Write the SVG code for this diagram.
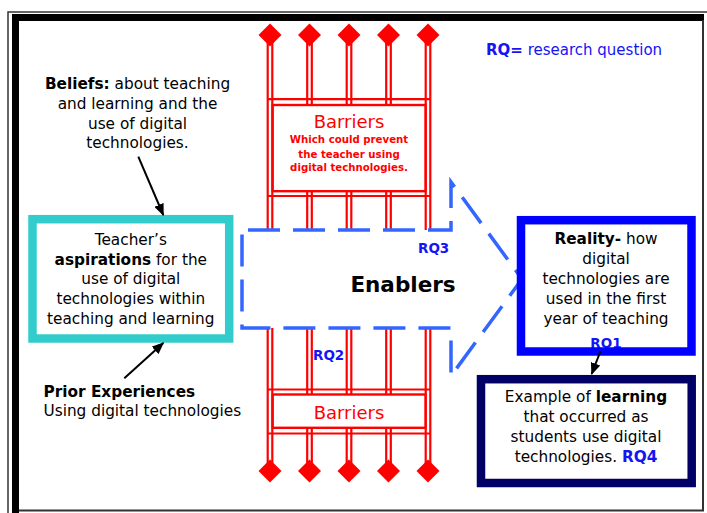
<svg xmlns="http://www.w3.org/2000/svg" width="707" height="513" viewBox="0 0 707 513">
<defs>
<style>
text{font-family:"DejaVu Sans","Liberation Sans",sans-serif;fill:#000}
.body{font-size:15.3px;text-anchor:middle}
.b{font-weight:bold}
.rq{fill:#1414F5;font-weight:bold}
.board-outer{fill:none;stroke:#FF0000;stroke-width:2.2}
.board-inner{fill:#fff;stroke:#FF0000;stroke-width:2.4}
.red{fill:#FF0000}
.conn line{stroke:#000;stroke-width:2;marker-end:url(#ah)}
</style>
<marker id="ah" viewBox="0 0 12 10" refX="11" refY="5" markerWidth="12" markerHeight="10" markerUnits="userSpaceOnUse" orient="auto"><path d="M0,0 L12,5 L0,10 Z" fill="#000"/></marker>
<g id="postTop">
<line x1="-2.3" y1="40" x2="-2.3" y2="240" stroke="#FF0000" stroke-width="2.2"/>
<line x1="2.3" y1="40" x2="2.3" y2="240" stroke="#FF0000" stroke-width="2.2"/>
<polygon points="0,23.5 11.5,35 0,46.5 -11.5,35" fill="#FF0000"/>
</g>
<g id="postBottom">
<line x1="-2.3" y1="320" x2="-2.3" y2="466" stroke="#FF0000" stroke-width="2.2"/>
<line x1="2.3" y1="320" x2="2.3" y2="466" stroke="#FF0000" stroke-width="2.2"/>
<polygon points="0,459.5 11.5,471 0,482.5 -11.5,471" fill="#FF0000"/>
</g>
</defs>

<g id="frame">
<path d="M8,513 V12 H707" fill="none" stroke="#333" stroke-width="1.5"/>
<path d="M12,513 V14 H704 V21 H19 V513 Z" fill="#000"/>
<path d="M703,20 V510.5 H19" fill="none" stroke="#333" stroke-width="2"/>
</g>

<g id="barriers-top">
<use href="#postTop" x="270"/>
<use href="#postTop" x="309.5"/>
<use href="#postTop" x="349"/>
<use href="#postTop" x="388.5"/>
<use href="#postTop" x="428"/>
<path class="board-outer" d="M267.7,99.2 H430.3 M267.7,196 H430.3"/>
<rect class="board-inner" x="272.7" y="105" width="152.8" height="86.2"/>
<text class="red" x="349" y="128.3" font-size="18" text-anchor="middle">Barriers</text>
<text class="red b" font-size="10.2" text-anchor="middle"><tspan x="349" y="143">Which could prevent</tspan><tspan x="349" y="157.7">the teacher using</tspan><tspan x="349" y="171">digital technologies.</tspan></text>
</g>

<g id="barriers-bottom">
<use href="#postBottom" x="270"/>
<use href="#postBottom" x="309.5"/>
<use href="#postBottom" x="349"/>
<use href="#postBottom" x="388.5"/>
<use href="#postBottom" x="428"/>
<path class="board-outer" d="M267.7,389.5 H430.3 M267.7,433.5 H430.3"/>
<rect class="board-inner" x="272.7" y="394.5" width="152.8" height="33.3"/>
<text class="red" x="349" y="419" font-size="18" text-anchor="middle">Barriers</text>
</g>

<g id="enablers">
<path d="M242,230 H451 V182 L522,279 L451,376 V328 H242 Z" fill="#fff" stroke="#3366FF" stroke-width="3.5" stroke-dasharray="32 13" stroke-dashoffset="39"/>
<text class="b" x="403" y="291.5" font-size="21.5" text-anchor="middle">Enablers</text>
<text class="rq" x="418" y="253" font-size="13.5">RQ3</text>
</g>
<text id="rq2" class="rq" x="313" y="360" font-size="13.5">RQ2</text>

<g id="legend">
<text x="486" y="55" font-size="15" fill="#1414F5" style="fill:#1414F5"><tspan font-weight="bold">RQ=</tspan> research question</text>
</g>

<g id="beliefs">
<text class="body"><tspan x="137.5" y="89"><tspan class="b">Beliefs:</tspan> about teaching</tspan><tspan x="137.5" y="109">and learning and the</tspan><tspan x="137.5" y="128.5">use of digital</tspan><tspan x="137.5" y="148">technologies.</tspan></text>
</g>

<g id="aspirations">
<rect x="32.5" y="219.2" width="196.7" height="119.3" fill="#fff" stroke="#33CCCC" stroke-width="8.5"/>
<text class="body"><tspan x="130.8" y="245">Teacher’s</tspan><tspan x="130.8" y="264.5"><tspan class="b">aspirations</tspan> for the</tspan><tspan x="130.8" y="284">use of digital</tspan><tspan x="130.8" y="303.8">technologies within</tspan><tspan x="130.8" y="323.5">teaching and learning</tspan></text>
</g>

<g id="prior">
<text font-size="15.3"><tspan x="43.5" y="396.5" class="b">Prior Experiences</tspan><tspan x="43.5" y="415.5">Using digital technologies</tspan></text>
</g>

<g id="reality">
<rect x="521" y="220.2" width="170.5" height="131.3" fill="#fff"/>
<text class="body"><tspan x="606" y="244"><tspan class="b">Reality-</tspan> how</tspan><tspan x="606" y="264">digital</tspan><tspan x="606" y="284">technologies are</tspan><tspan x="606" y="304">used in the first</tspan><tspan x="606" y="324">year of teaching</tspan></text>
<text class="rq" x="606" y="347.5" font-size="13.5" text-anchor="middle">RQ1</text>
<rect x="521" y="220.2" width="170.5" height="131.3" fill="none" stroke="#0000FF" stroke-width="8.5"/>
</g>

<g id="learning">
<rect x="481" y="379.2" width="210.7" height="103.8" fill="#fff" stroke="#000066" stroke-width="8.5"/>
<text class="body"><tspan x="586" y="401.7">Example of <tspan class="b">learning</tspan></tspan><tspan x="586" y="422">that occurred as</tspan><tspan x="586" y="442.3">students use digital</tspan><tspan x="586" y="461.7">technologies. <tspan class="rq">RQ4</tspan></tspan></text>
</g>

<g id="connectors" class="conn">
<line x1="138.3" y1="156.7" x2="163.3" y2="215"/>
<line x1="124.3" y1="378.3" x2="163.3" y2="343"/>
<line x1="600.5" y1="351" x2="591.7" y2="374"/>
</g>
</svg>
